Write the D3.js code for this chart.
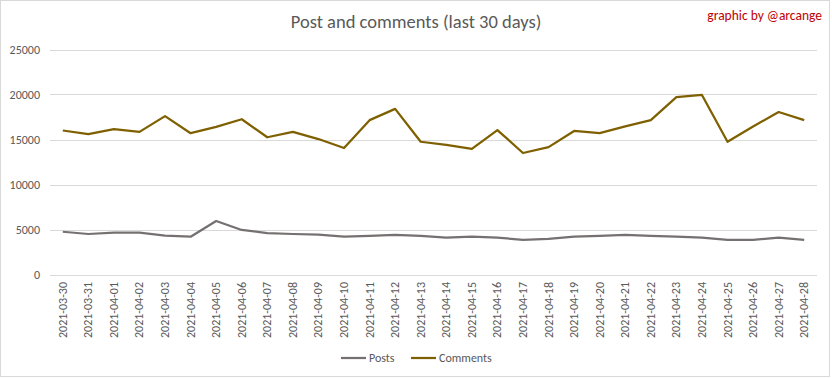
<!DOCTYPE html>
<html>
<head>
<meta charset="utf-8">
<script src="https://cdn.jsdelivr.net/npm/d3@7"></script>
<style>
  body { margin: 0; background: #fff; }
  text { font-family: Carlito, "Liberation Sans Narrow", "Open Sans", sans-serif; }
</style>
</head>
<body>
<svg id="chart" width="832" height="378"></svg>
<script>
var svg = d3.select("#chart");

// data
var dates = ["2021-03-30","2021-03-31","2021-04-01","2021-04-02","2021-04-03","2021-04-04","2021-04-05","2021-04-06","2021-04-07","2021-04-08",
             "2021-04-09","2021-04-10","2021-04-11","2021-04-12","2021-04-13","2021-04-14","2021-04-15","2021-04-16","2021-04-17","2021-04-18",
             "2021-04-19","2021-04-20","2021-04-21","2021-04-22","2021-04-23","2021-04-24","2021-04-25","2021-04-26","2021-04-27","2021-04-28"];
var posts = [4750,4500,4650,4650,4320,4200,5950,4950,4600,4500,
             4430,4200,4300,4400,4300,4100,4200,4100,3850,3950,
             4200,4300,4400,4300,4200,4100,3850,3850,4100,3850];
var comments = [16000,15600,16150,15850,17600,15700,16400,17250,15250,15850,
                15050,14050,17150,18400,14750,14400,13950,16050,13500,14150,
                15950,15700,16450,17150,19700,19950,14750,16450,18050,17150];
var yTicks = [0,5000,10000,15000,20000,25000];

var plotLeft = 50, plotRight = 817, plotTop = 49.5, plotBottom = 274.5;

// outer border
svg.append("rect")
   .attr("x", 0.5).attr("y", 0.5)
   .attr("width", 829).attr("height", 376)
   .attr("fill", "#fff").attr("stroke", "#d9d9d9");

var x = d3.scaleBand().domain(dates).range([plotLeft, plotRight]);
var y = d3.scaleLinear().domain([0, 25000]).range([plotBottom, plotTop]);

// gridlines + y labels
svg.selectAll("grid")
   .data(yTicks)
   .enter()
   .append("line")
   .attr("x1", plotLeft).attr("x2", plotRight)
   .attr("y1", function(d) { return Math.round(y(d)) + 0.5; })
   .attr("y2", function(d) { return Math.round(y(d)) + 0.5; })
   .attr("stroke", "#d9d9d9").attr("stroke-width", 1);

svg.selectAll("yLabels")
   .data(yTicks)
   .enter()
   .append("text")
   .attr("x", 40)
   .attr("y", function(d) { return y(d) + 4; })
   .attr("text-anchor", "end")
   .attr("font-size", 12)
   .attr("fill", "#595959")
   .text(function(d) { return d; });

// x labels, rotated
svg.selectAll("xLabels")
   .data(dates)
   .enter()
   .append("text")
   .attr("transform", function(d) {
     return "translate(" + (x(d) + x.bandwidth() / 2 + 4) + "," + 282 + ") rotate(-90)";
   })
   .attr("text-anchor", "end")
   .attr("font-size", 12)
   .attr("fill", "#595959")
   .text(function(d) { return d; });

// lines
var line = d3.line()
  .x(function(d, i) { return x(dates[i]) + x.bandwidth() / 2; })
  .y(function(d) { return y(d); });

svg.append("path")
   .attr("d", line(posts))
   .attr("fill", "none").attr("stroke", "#767171")
   .attr("stroke-width", 2.25).attr("stroke-linejoin", "round");

svg.append("path")
   .attr("d", line(comments))
   .attr("fill", "none").attr("stroke", "#7f6000")
   .attr("stroke-width", 2.25).attr("stroke-linejoin", "round");

// title and credit
svg.append("text")
   .attr("x", 416).attr("y", 28)
   .attr("text-anchor", "middle")
   .attr("font-family", "Lato, Carlito, sans-serif")
   .attr("font-weight", 300)
   .attr("font-size", 18.5)
   .attr("fill", "#595959")
   .text("Post and comments (last 30 days)");

svg.append("text")
   .attr("x", 822).attr("y", 20)
   .attr("text-anchor", "end")
   .attr("font-size", 13.5)
   .attr("fill", "#c00000")
   .text("graphic by @arcange");

// legend
var legend = [
  {name: "Posts", color: "#767171", x: 341},
  {name: "Comments", color: "#7f6000", x: 411}
];
legend.forEach(function(l) {
  svg.append("line")
     .attr("x1", l.x).attr("x2", l.x + 25)
     .attr("y1", 358).attr("y2", 358)
     .attr("stroke", l.color).attr("stroke-width", 2.25);
  svg.append("text")
     .attr("x", l.x + 28).attr("y", 362)
     .attr("font-size", 12)
     .attr("fill", "#595959")
     .text(l.name);
});
</script>
</body>
</html>
